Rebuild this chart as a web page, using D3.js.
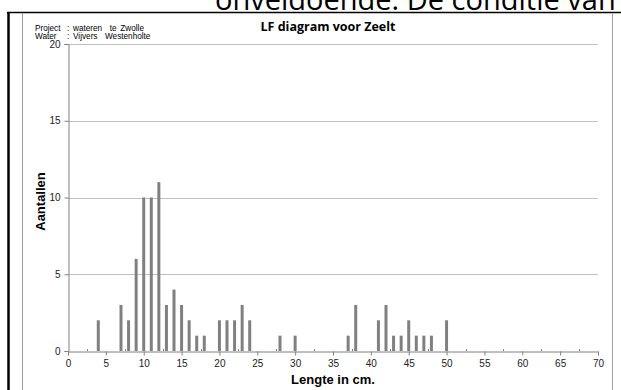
<!DOCTYPE html>
<html>
<head>
<meta charset="utf-8">
<script src="https://cdn.jsdelivr.net/npm/d3@7"></script>
<style>
  html, body { margin: 0; padding: 0; background: #fff; overflow: hidden; }
  svg { display: block; }
</style>
</head>
<body>
<div id="chart"></div>
<script>
// ---- Data ----
const lengths = [4, 7, 8, 9, 10, 11, 12, 13, 14, 15, 16, 17, 18, 20, 21, 22, 23, 24, 28, 30, 37, 38, 41, 42, 43, 44, 45, 46, 47, 48, 50];
const counts  = [2, 3, 2, 6, 10, 10, 11, 3, 4, 3, 2, 1, 1, 2, 2, 2, 3, 2, 1, 1, 1, 3, 2, 3, 1, 1, 2, 1, 1, 1, 2];
const xTicks = [0, 5, 10, 15, 20, 25, 30, 35, 40, 45, 50, 55, 60, 65, 70];
const xMinorTicks = [2.5, 7.5, 12.5, 17.5, 22.5, 27.5, 32.5, 37.5, 42.5, 47.5, 52.5, 57.5, 62.5, 67.5];
const yTicks = [0, 5, 10, 15, 20];
const title = "LF diagram voor Zeelt";
const xTitle = "Lengte in cm.";
const yTitle = "Aantallen";
const infoLabels = ["Project", "Water"];
const infoValues = [": wateren  te Zwolle", ": Vijvers  Westenholte"];
const pageText = "onveldoende. De conditie van";

(function () {
const W = 621, H = 390;
const svg = d3.select("#chart").append("svg").attr("width", W).attr("height", H);
svg.append("rect").attr("width", W).attr("height", H).attr("fill", "#fff");

// page text (document behind the chart, cut at the top edge)
svg.append("text").attr("x", 215).attr("y", 9.5)
  .attr("font-family", "'Open Sans', sans-serif").attr("font-size", 29)
  .attr("fill", "#000").text(pageText);

// frame lines
svg.append("line").attr("x1", 7).attr("x2", W).attr("y1", 12.5).attr("y2", 12.5)
  .attr("stroke", "#000").attr("stroke-width", 1.5);
svg.append("line").attr("x1", 8.5).attr("x2", 8.5).attr("y1", 12).attr("y2", H)
  .attr("stroke", "#000").attr("stroke-width", 2.5);
svg.append("line").attr("x1", 22.5).attr("x2", 22.5).attr("y1", 13).attr("y2", H)
  .attr("stroke", "#a0a0a0").attr("stroke-width", 1);
svg.append("line").attr("x1", 612.5).attr("x2", 612.5).attr("y1", 13).attr("y2", H)
  .attr("stroke", "#a0a0a0").attr("stroke-width", 1);

const pLeft = 68, pRight = 598, pTop = 44, pBottom = 351;
const x = d3.scaleLinear().domain([0, 70]).range([pLeft, pRight]);
const y = d3.scaleLinear().domain([0, 20]).range([pBottom, pTop]);

// gridlines
svg.append("g").selectAll("line").data(yTicks.filter(d => d > 0)).join("line")
  .attr("x1", pLeft).attr("x2", pRight)
  .attr("y1", d => Math.round(y(d)) + 0.5).attr("y2", d => Math.round(y(d)) + 0.5)
  .attr("stroke", "#c0c0c0").attr("stroke-width", 1);

// bars
const barW = 3;
svg.append("g").selectAll("rect").data(lengths).join("rect")
  .attr("x", (d) => x(d) - barW / 2)
  .attr("y", (d, i) => y(counts[i]))
  .attr("width", barW)
  .attr("height", (d, i) => y(0) - y(counts[i]))
  .attr("fill", "#808080");

// y axis
const yAxis = d3.axisLeft(y).tickValues(yTicks).tickSize(4).tickPadding(4).tickFormat(d3.format("d"));
const gy = svg.append("g").attr("transform", `translate(${pLeft + 0.5},0)`).call(yAxis);
gy.select(".domain").attr("stroke", "#808080");
gy.selectAll(".tick line").attr("stroke", "#808080");
gy.selectAll(".tick text").attr("font-family", "'Liberation Sans', Arial, sans-serif")
  .attr("font-size", 10).attr("fill", "#222");

// x axis
const xAxis = d3.axisBottom(x).tickValues(xTicks).tickSize(4).tickPadding(4).tickFormat(d3.format("d"));
const gx = svg.append("g").attr("transform", `translate(0,${pBottom + 0.5})`).call(xAxis);
gx.select(".domain").attr("stroke", "#808080");
gx.selectAll(".tick line").attr("stroke", "#808080");
gx.selectAll(".tick text").attr("font-family", "'Liberation Sans', Arial, sans-serif")
  .attr("font-size", 10).attr("fill", "#222");
// minor ticks
svg.append("g").selectAll("line").data(xMinorTicks).join("line")
  .attr("x1", d => Math.round(x(d)) + 0.5).attr("x2", d => Math.round(x(d)) + 0.5)
  .attr("y1", pBottom - 2).attr("y2", pBottom)
  .attr("stroke", "#808080");

// titles
svg.append("text").attr("x", 328).attr("y", 31).attr("text-anchor", "middle")
  .attr("font-family", "'Open Sans', sans-serif").attr("font-weight", "bold")
  .attr("font-size", 12.5).attr("fill", "#000").text(title);

svg.append("text").attr("x", (pLeft + pRight) / 2).attr("y", 384).attr("text-anchor", "middle")
  .attr("font-family", "'Liberation Sans', Arial, sans-serif").attr("font-weight", "bold")
  .attr("font-size", 13).attr("fill", "#000").text(xTitle);

svg.append("text").attr("transform", `translate(45,${(pTop + pBottom) / 2 + 4}) rotate(-90)`)
  .attr("text-anchor", "middle")
  .attr("font-family", "'Liberation Sans', Arial, sans-serif").attr("font-weight", "bold")
  .attr("font-size", 13).attr("fill", "#000").text(yTitle);

// info lines
infoLabels.forEach((lab, i) => {
  svg.append("text").attr("x", 35).attr("y", 30.5 + i * 8)
    .attr("font-family", "'Liberation Sans', Arial, sans-serif").attr("font-size", 8.2)
    .attr("fill", "#000").text(lab);
  svg.append("text").attr("x", 67).attr("y", 30.5 + i * 8)
    .attr("font-family", "'Liberation Sans', Arial, sans-serif").attr("font-size", 8.2)
    .attr("word-spacing", 1.5)
    .attr("fill", "#000").style("white-space", "pre").text(infoValues[i]);
});
})();
</script>
</body>
</html>
